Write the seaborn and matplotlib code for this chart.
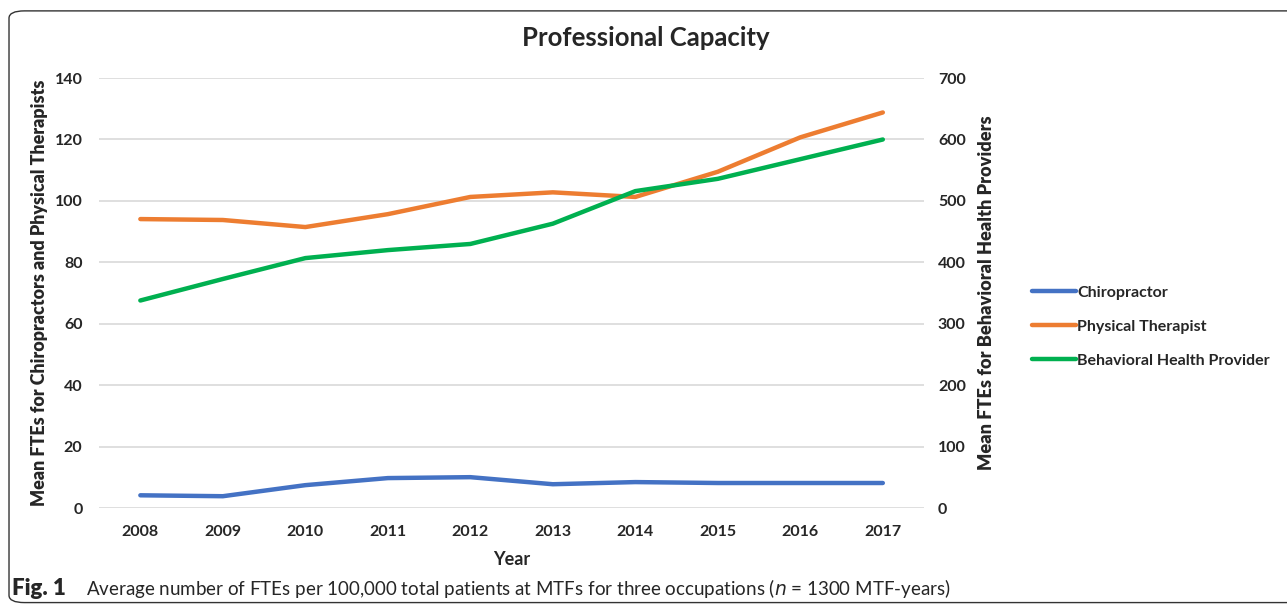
import pandas as pd
import matplotlib.pyplot as plt
import seaborn as sns
from matplotlib.patches import FancyBboxPatch
from matplotlib.lines import Line2D

# values
years = [2008, 2009, 2010, 2011, 2012, 2013, 2014, 2015, 2016, 2017]
chiropractor = [4.2, 3.9, 7.5, 9.8, 10.1, 7.8, 8.5, 8.2, 8.2, 8.2]
physical_therapist = [94.1, 93.8, 91.5, 95.7, 101.3, 102.8, 101.3, 109.5, 120.7, 128.8]
behavioral_health = [338, 373, 407, 420, 430, 463, 516, 536, 568, 600]

left_ticks = [0, 20, 40, 60, 80, 100, 120, 140]
right_ticks = [0, 100, 200, 300, 400, 500, 600, 700]

blue = "#4472C4"
orange = "#ED7D31"
green = "#00B050"

sns.set_style("white")
plt.rcParams['font.family'] = ['Lato', 'DejaVu Sans']

df = pd.DataFrame({"Year": years, "Chiropractor": chiropractor,
                   "Physical Therapist": physical_therapist,
                   "Behavioral Health Provider": behavioral_health})

fig = plt.figure(figsize=(12.87, 6.05), dpi=100)
ax = fig.add_axes([0.077, 0.160, 0.641, 0.711])
ax2 = ax.twinx()

sns.lineplot(data=df, x="Year", y="Chiropractor", ax=ax, color=blue, linewidth=3.2)
sns.lineplot(data=df, x="Year", y="Physical Therapist", ax=ax, color=orange, linewidth=3.2)
sns.lineplot(data=df, x="Year", y="Behavioral Health Provider", ax=ax2, color=green, linewidth=3.2)

ax.set_xlim(2007.5, 2017.5)
ax.set_ylim(0, 140)
ax2.set_ylim(0, 700)
ax.set_yticks(left_ticks)
ax2.set_yticks(right_ticks)
ax.set_xticks(years)
ax.set_xticklabels([str(y) for y in years], fontsize=11.5, fontweight="bold")
ax.set_yticklabels([str(t) for t in left_ticks], fontsize=11.5, fontweight="bold")
ax2.set_yticklabels([str(t) for t in right_ticks], fontsize=11.5, fontweight="bold")
ax.tick_params(axis="both", length=0, pad=12)
ax2.tick_params(axis="y", length=0, pad=10)

ax.grid(axis="y", color="#D9D9D9", linewidth=1.2)
ax.set_axisbelow(True)
for a in (ax, ax2):
    for s in a.spines.values():
        s.set_visible(False)

ax.set_xlabel("Year", fontsize=13, fontweight="bold", labelpad=9)
ax.set_ylabel("Mean FTEs for Chiropractors and Physical Therapists", fontsize=12.9,
              fontweight="heavy", va="center")
ax2.set_ylabel("Mean FTEs for Behavioral Health Providers", fontsize=13.1,
               fontweight="heavy", va="center")
ax.yaxis.set_label_coords(-0.072, 0.5)
ax2.yaxis.set_label_coords(1.076, 0.5)

fig.text(0.502, 0.937, "Professional Capacity", ha="center", va="center",
         fontsize=18.5, fontweight="bold")

handles = [Line2D([], [], color=blue, linewidth=3.2),
           Line2D([], [], color=orange, linewidth=3.2),
           Line2D([], [], color=green, linewidth=3.2)]
fig.legend(handles, ["Chiropractor", "Physical Therapist", "Behavioral Health Provider"],
           loc="center left", bbox_to_anchor=(0.791, 0.46), frameon=False,
           handlelength=2.7, handletextpad=0.1, labelspacing=1.25,
           prop={"weight": "bold", "size": 11.5})

fig.text(0.009, 0.028, "Fig. 1", fontsize=16, fontweight="heavy", va="center")
cap = "Average number of FTEs per 100,000 total patients at MTFs for three occupations ($n$ = 1300 MTF-years)"
fig.text(0.067, 0.028, cap, fontsize=13.5, va="center")

box = FancyBboxPatch((0.007, 0.004), 1.05, 0.978, boxstyle="round,pad=0,rounding_size=0.012",
                     transform=fig.transFigure, fill=False, edgecolor="#333333",
                     linewidth=1.0, clip_on=False)
fig.patches.append(box)

fig.savefig("out.png", dpi=100)
